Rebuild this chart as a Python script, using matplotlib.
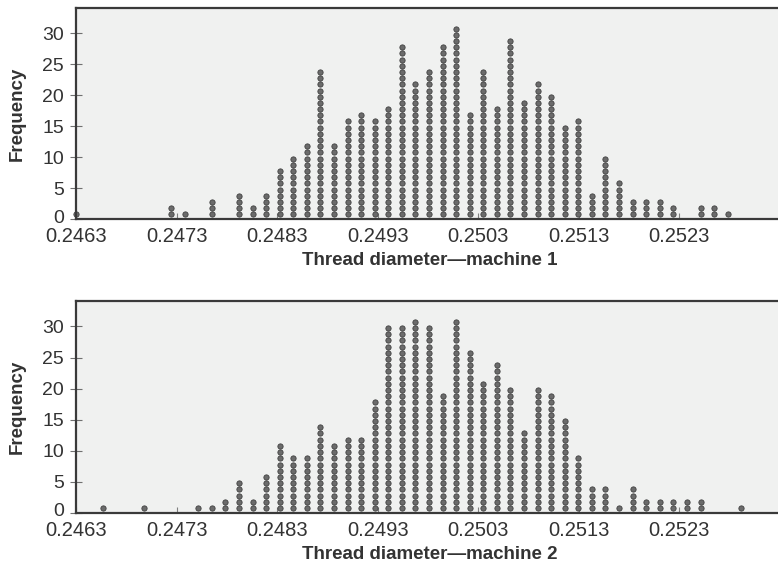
"""
Dot plots of thread diameter for two machines (one dot per part).
"""

import matplotlib
matplotlib.use('Agg')
import matplotlib.pyplot as plt
import matplotlib.transforms as mtransforms

plt.rcParams['font.family'] = ['Liberation Sans', 'DejaVu Sans']

# ── data (bin centre, number of parts) ───────────────────────────────────────
machine_1_diameter = [
    0.246300, 0.247245, 0.247380, 0.247650, 0.247920, 0.248055, 0.248190,
    0.248325, 0.248460, 0.248595, 0.248730, 0.248865, 0.249000, 0.249135,
    0.249270, 0.249405, 0.249540, 0.249675, 0.249810, 0.249945, 0.250080,
    0.250215, 0.250350, 0.250485, 0.250620, 0.250755, 0.250890, 0.251025,
    0.251160, 0.251295, 0.251430, 0.251565, 0.251700, 0.251835, 0.251970,
    0.252105, 0.252240, 0.252510, 0.252645, 0.252780,
]
machine_1_count = [
    1, 2, 1, 3, 4, 2, 4,
    8, 10, 12, 24, 12, 16, 17,
    16, 18, 28, 22, 24, 28, 31,
    17, 24, 18, 29, 19, 22, 20,
    15, 16, 4, 10, 6, 3, 3,
    3, 2, 2, 2, 1,
]

machine_2_diameter = [
    0.246570, 0.246975, 0.247515, 0.247650, 0.247785, 0.247920, 0.248055,
    0.248190, 0.248325, 0.248460, 0.248595, 0.248730, 0.248865, 0.249000,
    0.249135, 0.249270, 0.249405, 0.249540, 0.249675, 0.249810, 0.249945,
    0.250080, 0.250215, 0.250350, 0.250485, 0.250620, 0.250755, 0.250890,
    0.251025, 0.251160, 0.251295, 0.251430, 0.251565, 0.251700, 0.251835,
    0.251970, 0.252105, 0.252240, 0.252375, 0.252510, 0.252915,
]
machine_2_count = [
    1, 1, 1, 1, 2, 5, 2,
    6, 11, 9, 9, 14, 11, 12,
    12, 18, 30, 30, 31, 30, 19,
    31, 26, 21, 24, 20, 13, 20,
    19, 15, 9, 4, 4, 1, 4,
    2, 2, 2, 2, 2, 1,
]

x_ticks = [0.2463, 0.2473, 0.2483, 0.2493, 0.2503, 0.2513, 0.2523]
x_tick_labels = ["0.2463", "0.2473", "0.2483", "0.2493", "0.2503", "0.2513", "0.2523"]
y_ticks = [0, 5, 10, 15, 20, 25, 30]

TEXT_COLOR = "#333333"
SPINE_COLOR = "#3a3a3a"
BG_COLOR = "#f0f1f0"


def dot_plot(fig, ax, diameters, counts, xlabel):
    ax.set_facecolor(BG_COLOR)

    # stack one marker per part in each bin
    for d, c in zip(diameters, counts):
        ys = [n - 0.24 for n in range(1, c + 1)]
        ax.plot([d] * c, ys, linestyle="none", marker="o", markersize=3.8,
                markerfacecolor="#6b6b6b", markeredgecolor="#404040",
                markeredgewidth=0.6, clip_on=False, zorder=3)

    ax.set_xlim(0.2463, 0.25334)
    ax.set_ylim(0, 34.1)
    ax.set_xticks(x_ticks)
    ax.set_xticklabels(x_tick_labels)
    ax.set_yticks(y_ticks)

    for side in ["left", "top", "bottom"]:
        ax.spines[side].set_color(SPINE_COLOR)
        ax.spines[side].set_linewidth(1.6)
        ax.spines[side].set_zorder(4)
    ax.spines["right"].set_visible(False)

    ax.tick_params(axis="x", direction="in", length=4.2, width=0.8,
                   color="#808080", pad=6, labelsize=14.5, labelcolor=TEXT_COLOR)
    ax.tick_params(axis="y", direction="inout", length=9, width=0.8,
                   color="#707070", pad=4, labelsize=14, labelcolor=TEXT_COLOR)
    # the 0 label sits right above the first x label; lift it a few pixels
    zero_label = ax.get_yticklabels()[0]
    lift = mtransforms.ScaledTranslation(0, 3 / 100, fig.dpi_scale_trans)
    zero_label.set_transform(zero_label.get_transform() + lift)

    ax.set_xlabel(xlabel, fontsize=13.5, fontweight="bold", color=TEXT_COLOR,
                  labelpad=4)
    ax.set_ylabel("Frequency", fontsize=13.5, fontweight="bold",
                  color=TEXT_COLOR)
    ax.yaxis.set_label_coords(-0.071, 0.5)


def main():
    fig = plt.figure(figsize=(7.78, 5.69), dpi=100)
    ax_top = fig.add_axes([0.0977, 0.6151, 0.91, 0.3708])
    ax_bottom = fig.add_axes([0.0977, 0.0989, 0.91, 0.3721])

    dot_plot(fig, ax_top, machine_1_diameter, machine_1_count,
             "Thread diameter\u2014machine 1")
    dot_plot(fig, ax_bottom, machine_2_diameter, machine_2_count,
             "Thread diameter\u2014machine 2")

    fig.savefig("out.png", dpi=100)
    plt.close(fig)


if __name__ == "__main__":
    main()
